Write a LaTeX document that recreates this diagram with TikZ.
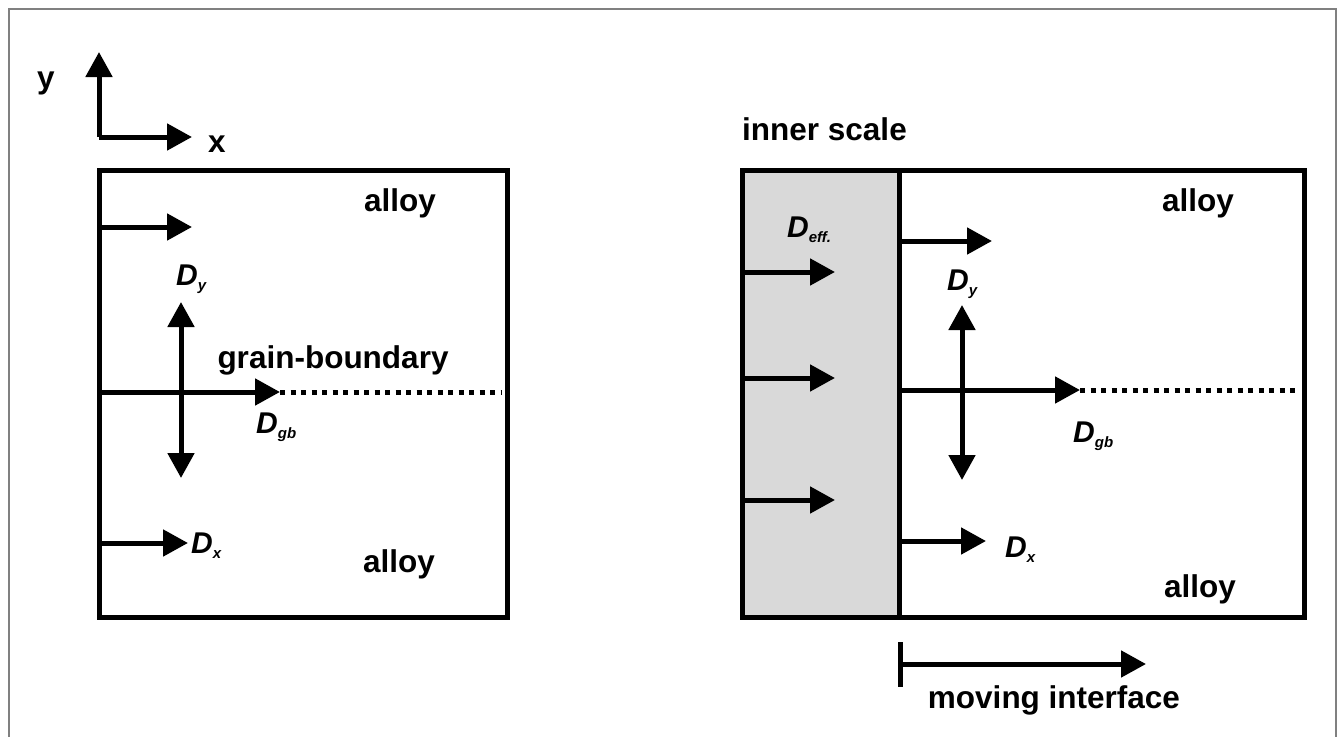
\documentclass[tikz,border=0pt]{standalone}
\usepackage{fontspec}
\setmainfont{Liberation Sans}
\usetikzlibrary{arrows.meta}
\newcommand{\Dlab}[1]{{\fontsize{30}{30}\selectfont\bfseries\itshape D}\raisebox{-5.5pt}{\fontsize{15}{15}\selectfont\bfseries\itshape #1}}
\definecolor{panelgray}{HTML}{D9D9D9}
\begin{document}
\begin{tikzpicture}[x=1pt,y=-1pt,
  boxline/.style={line width=5pt},
  arr/.style={line width=5pt,-{Triangle[length=25pt,width=26pt]}},
  dbl/.style={line width=5pt,{Triangle[length=25pt,width=26pt]}-{Triangle[length=25pt,width=26pt]}},
  lbl/.style={font=\fontsize{31.5}{36}\selectfont\bfseries, inner sep=0pt, anchor=base},
  dl/.style={inner sep=0pt, anchor=base west},
  dots/.style={line width=5pt, dash pattern=on 5pt off 5.5pt}]

\useasboundingbox (0,0) rectangle (1338,736);
\fill[white] (0,0) rectangle (1338,736);
\draw[gray, line width=1.5pt] (9,740) -- (9,9) -- (1336,9) -- (1336,740);

% ---------- left panel ----------
\coordinate (O) at (99,137);
\coordinate (Ytip) at (99,52);
\coordinate (Xtip) at (192,137);
\draw[arr] (O) -- (Ytip);
\draw[arr] (O) -- (Xtip);
\node[lbl] (ylab) at (46,88) {y};
\node[lbl] (xlab) at (217,152) {x};

\draw[boxline] (99,170) rectangle (507,617);
\coordinate (L1s) at (99,227); \coordinate (L1e) at (192,227);
\draw[arr] (L1s) -- (L1e);
\node[lbl] (alloyLT) at (400,211) {alloy};
\node[dl] (DyL) at (176,285) {\Dlab{y}};
\coordinate (LVt) at (181,302); \coordinate (LVb) at (181,478);
\draw[dbl] (LVb) -- (LVt);
\coordinate (LGs) at (99,392); \coordinate (LGe) at (280,392); \coordinate (LGd) at (501,392);
\draw[arr] (LGs) -- (LGe);
\draw[dots] (LGe) -- (LGd);
\node[lbl] (gbL) at (333,368) {grain-boundary};
\node[dl] (DgbL) at (256,433) {\Dlab{gb}};
\coordinate (LXs) at (99,543); \coordinate (LXe) at (188,543);
\draw[arr] (LXs) -- (LXe);
\node[dl] (DxL) at (191,553) {\Dlab{x}};
\node[lbl] (alloyLB) at (399,572) {alloy};

% ---------- right panel ----------
\node[lbl, anchor=base west] (inner) at (742,140) {inner scale};
\fill[panelgray] (742,170) rectangle (899,617);
\draw[boxline] (742,170) rectangle (1304,617);
\draw[boxline] (899,170) -- (899,617);
\foreach \yy/\nm in {272/g1, 378/g2, 500/g3} {
  \coordinate (\nm s) at (742,\yy); \coordinate (\nm e) at (835,\yy);
  \draw[arr] (\nm s) -- (\nm e);
}
\node[dl] (Deff) at (787,237) {\Dlab{eff.}};
\coordinate (R1s) at (899,241); \coordinate (R1e) at (992,241);
\draw[arr] (R1s) -- (R1e);
\node[lbl] (alloyRT) at (1198,211) {alloy};
\node[dl] (DyR) at (947,290) {\Dlab{y}};
\coordinate (RVt) at (962,305); \coordinate (RVb) at (962,480);
\draw[dbl] (RVb) -- (RVt);
\coordinate (RGs) at (899,390); \coordinate (RGe) at (1080,390); \coordinate (RGd) at (1300,390);
\draw[arr] (RGs) -- (RGe);
\draw[dots] (RGe) -- (RGd);
\node[dl] (DgbR) at (1073,442) {\Dlab{gb}};
\coordinate (RXs) at (899,541); \coordinate (RXe) at (986,541);
\draw[arr] (RXs) -- (RXe);
\node[dl] (DxR) at (1005,557) {\Dlab{x}};
\node[lbl] (alloyRB) at (1200,597) {alloy};

% moving interface
\coordinate (Mt) at (900,642); \coordinate (Mb) at (900,687);
\draw[boxline] (Mt) -- (Mb);
\coordinate (Ms) at (900,664); \coordinate (Me) at (1146,664);
\draw[arr] (Ms) -- (Me);
\node[lbl] (moving) at (1054,708) {moving interface};
\end{tikzpicture}
\end{document}
